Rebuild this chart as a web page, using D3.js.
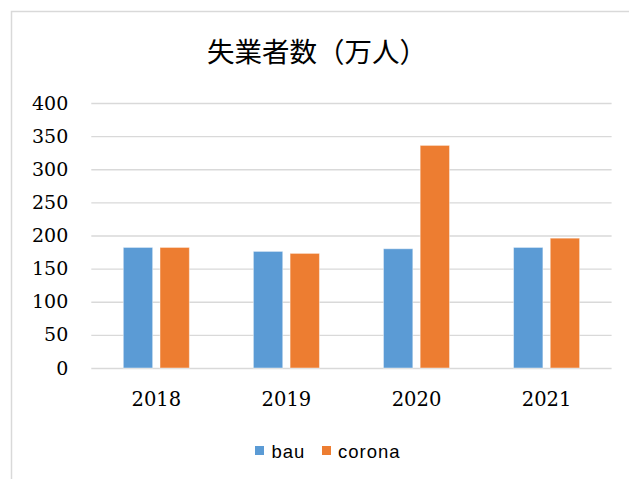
<!DOCTYPE html>
<html>
<head>
<meta charset="utf-8">
<script src="https://cdn.jsdelivr.net/npm/d3@7"></script>
<style>
  html, body { margin: 0; padding: 0; background: #fff; }
  svg { display: block; }
</style>
</head>
<body>
<svg id="chart" width="629" height="479"></svg>
<script>
const title = "失業者数（万人）";
const categories = ["2018", "2019", "2020", "2021"];
const seriesNames = ["bau", "corona"];
const bauValues = [182, 176, 180, 182];
const coronaValues = [182, 173, 336, 196];
const yTicks = [0, 50, 100, 150, 200, 250, 300, 350, 400];
const colors = ["#5B9BD5", "#ED7D31"];

const svg = d3.select("#chart");

// outer chart border
svg.append("rect")
  .attr("x", 11.5).attr("y", 11.5)
  .attr("width", 640).attr("height", 500)
  .attr("fill", "#fff")
  .attr("stroke", "#d9d9d9").attr("stroke-width", 1.5);

const plot = { left: 91.3, right: 611.6, top: 103, bottom: 368 };

const y = d3.scaleLinear().domain([0, 400]).range([plot.bottom, plot.top]);
const x0 = d3.scaleBand().domain(categories)
  .range([plot.left, plot.right]).paddingInner(0.492).paddingOuter(0.246);
const x1 = d3.scaleBand().domain(seriesNames)
  .range([0, x0.bandwidth()]).paddingInner(0.2).paddingOuter(0);

const numFont = "'DejaVu Serif', serif";

// gridlines + y labels
const yAxis = d3.axisLeft(y).tickValues(yTicks)
  .tickSize(-(plot.right - plot.left)).tickPadding(23);
const gy = svg.append("g")
  .attr("transform", `translate(${plot.left},0)`)
  .call(yAxis);
gy.select(".domain").remove();
gy.selectAll(".tick line").attr("stroke", "#d9d9d9").attr("stroke-width", 1.3);
gy.selectAll(".tick text")
  .attr("font-family", numFont)
  .attr("font-size", 19).attr("fill", "#000");

// x axis labels
const xAxis = d3.axisBottom(x0).tickSize(0).tickPadding(24);
const gx = svg.append("g")
  .attr("transform", `translate(0,${plot.bottom})`)
  .call(xAxis);
gx.select(".domain").remove();
gx.selectAll(".tick text")
  .attr("font-family", numFont)
  .attr("font-size", 19.5).attr("fill", "#000");

// bars
const data = categories.map((c, i) => ({
  cat: c,
  vals: [
    { name: "bau", v: bauValues[i], color: colors[0] },
    { name: "corona", v: coronaValues[i], color: colors[1] }
  ]
}));

const groups = svg.append("g").selectAll("g")
  .data(data).join("g")
  .attr("transform", d => `translate(${x0(d.cat)},0)`);

groups.selectAll("rect")
  .data(d => d.vals).join("rect")
  .attr("x", d => x1(d.name))
  .attr("width", x1.bandwidth())
  .attr("y", d => y(d.v))
  .attr("height", d => y(0) - y(d.v))
  .attr("fill", d => d.color)
  .attr("stroke", "#ffffff").attr("stroke-opacity", 0.45).attr("stroke-width", 1);

// title
svg.append("text")
  .attr("x", 317).attr("y", 62)
  .attr("text-anchor", "middle")
  .attr("font-family", "'Noto Sans CJK JP', sans-serif")
  .attr("font-size", 27.5)
  .attr("fill", "#000")
  .text(title);

// legend
const legendItems = [
  { name: seriesNames[0], color: colors[0], sx: 255, tx: 271.5 },
  { name: seriesNames[1], color: colors[1], sx: 322, tx: 338 }
];
const lg = svg.append("g");
lg.selectAll("rect").data(legendItems).join("rect")
  .attr("x", d => d.sx).attr("y", 446)
  .attr("width", 9).attr("height", 9)
  .attr("fill", d => d.color);
lg.selectAll("text").data(legendItems).join("text")
  .attr("x", d => d.tx).attr("y", 458)
  .attr("font-family", "'Liberation Sans', Arial, sans-serif")
  .attr("font-size", 18.5)
  .attr("letter-spacing", 1)
  .attr("fill", "#000")
  .text(d => d.name);
</script>
</body>
</html>
